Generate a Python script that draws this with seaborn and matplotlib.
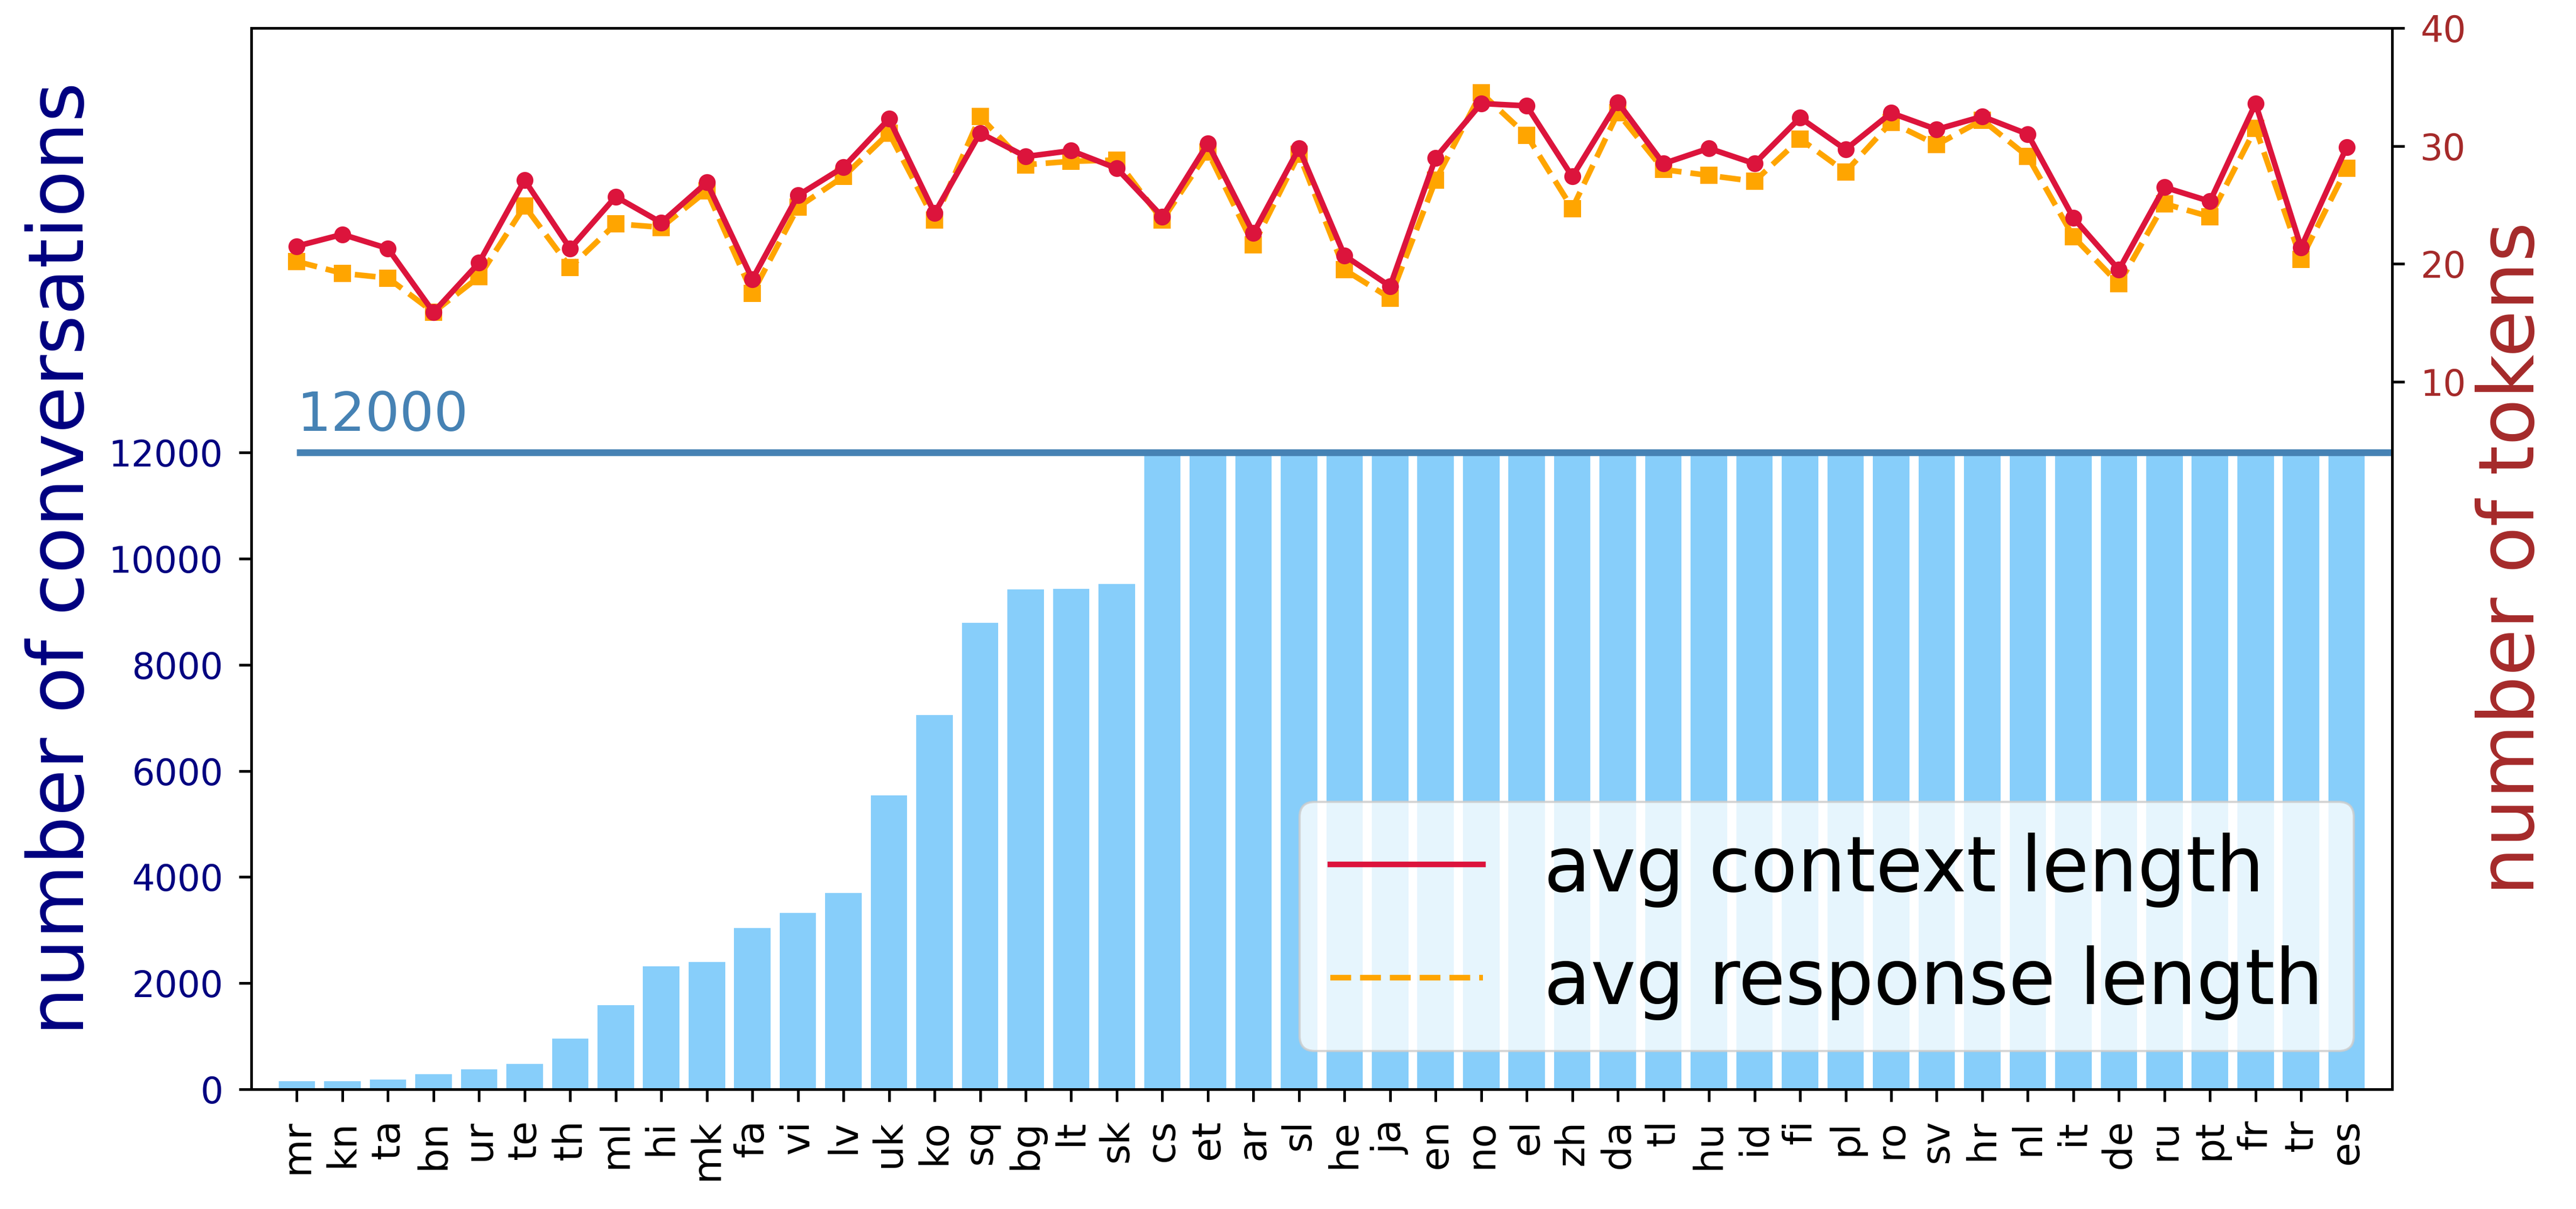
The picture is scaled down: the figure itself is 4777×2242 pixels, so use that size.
import numpy as np
import pandas as pd
import matplotlib
matplotlib.use("Agg")
import matplotlib.pyplot as plt
import seaborn as sns
from matplotlib.lines import Line2D

languages = ['mr', 'kn', 'ta', 'bn', 'ur', 'te', 'th', 'ml', 'hi', 'mk', 'fa', 'vi', 'lv', 'uk',
             'ko', 'sq', 'bg', 'lt', 'sk', 'cs', 'et', 'ar', 'sl', 'he', 'ja', 'en', 'no', 'el',
             'zh', 'da', 'tl', 'hu', 'id', 'fi', 'pl', 'ro', 'sv', 'hr', 'nl', 'it', 'de', 'ru',
             'pt', 'fr', 'tr', 'es']

num_conversations = [150, 150, 180, 280, 380, 480, 960, 1590, 2320, 2400, 3040, 3320, 3700, 5540,
                     7050, 8790, 9420, 9430, 9520, 12000, 12000, 12000, 12000, 12000, 12000, 12000,
                     12000, 12000, 12000, 12000, 12000, 12000, 12000, 12000, 12000, 12000, 12000,
                     12000, 12000, 12000, 12000, 12000, 12000, 12000, 12000, 12000]

avg_context_length = [21.5, 22.5, 21.3, 15.9, 20.1, 27.1, 21.3, 25.7, 23.5, 26.9, 18.7, 25.8, 28.2,
                      32.3, 24.3, 31.1, 29.1, 29.6, 28.1, 24.0, 30.2, 22.6, 29.8, 20.7, 18.1, 29.0,
                      33.6, 33.4, 27.4, 33.7, 28.5, 29.8, 28.5, 32.4, 29.7, 32.8, 31.4, 32.5, 31.0,
                      23.9, 19.5, 26.5, 25.3, 33.6, 21.4, 29.9]

avg_response_length = [20.2, 19.2, 18.8, 15.9, 18.9, 24.9, 19.7, 23.4, 23.1, 26.2, 17.5, 24.8, 27.4,
                       31.1, 23.7, 32.5, 28.4, 28.7, 28.8, 23.7, 29.5, 21.6, 29.3, 19.5, 17.1, 27.1,
                       34.5, 30.9, 24.7, 32.8, 28.0, 27.5, 27.0, 30.6, 27.8, 32.0, 30.1, 32.2, 29.1,
                       22.3, 18.3, 25.1, 24.0, 31.5, 20.4, 28.1]

cap = 12000

df = pd.DataFrame({'language': languages, 'conversations': num_conversations,
                   'context': avg_context_length, 'response': avg_response_length})
df['pos'] = np.arange(len(df))

fig = plt.figure(figsize=(4777 / 300, 2242 / 300), dpi=300)
ax = fig.add_axes([0.09755, 0.09902, 0.8311, 0.8778])

sns.barplot(data=df, x='language', y='conversations', color='lightskyblue', saturation=1,
            width=0.8, linewidth=0, ax=ax)
ax.hlines(cap, 0, len(df), color='steelblue', lw=3)
ax.text(0, cap + 200, str(cap), color='steelblue', fontsize=24, va='bottom', ha='left')

ax.set_xlim(-1, len(df))
ax.set_ylim(0, 20000)
ax.set_yticks(range(0, 12001, 2000))
ax.set_xlabel('')
ax.set_ylabel('number of conversations', fontsize=34, color='navy')
ax.tick_params(axis='y', labelcolor='navy', labelsize=16, length=5.5, width=1.2, pad=7)
ax.tick_params(axis='x', labelsize=17.5, rotation=90, length=5.5, width=1.2, pad=8)

ax2 = ax.twinx()
sns.lineplot(data=df, x='pos', y='response', color='orange', linestyle='--', marker='s',
             markersize=7.5, markeredgewidth=0, lw=2.5, ax=ax2, zorder=2)
sns.lineplot(data=df, x='pos', y='context', color='crimson', marker='o',
             markersize=7.5, markeredgewidth=0, lw=2.5, ax=ax2, zorder=3)
ax2.set_ylim(-50, 40)
ax2.set_yticks([10, 20, 30, 40])
ax2.set_xlim(-1, len(df))
ax2.set_xlabel('')
ax2.set_ylabel('number of tokens', fontsize=34, color='brown')
ax2.tick_params(axis='y', labelcolor='brown', labelsize=16, length=5.5, width=1.2, pad=7)

for a in (ax, ax2):
    for s in a.spines.values():
        s.set_linewidth(1.2)

handles = [Line2D([], [], color='crimson', lw=2.5),
           Line2D([], [], color='orange', lw=2.5, linestyle='--')]
ax2.legend(handles, ['avg context length', 'avg response length'], loc='lower right', fontsize=34)

fig.savefig('out.png', dpi=300)
